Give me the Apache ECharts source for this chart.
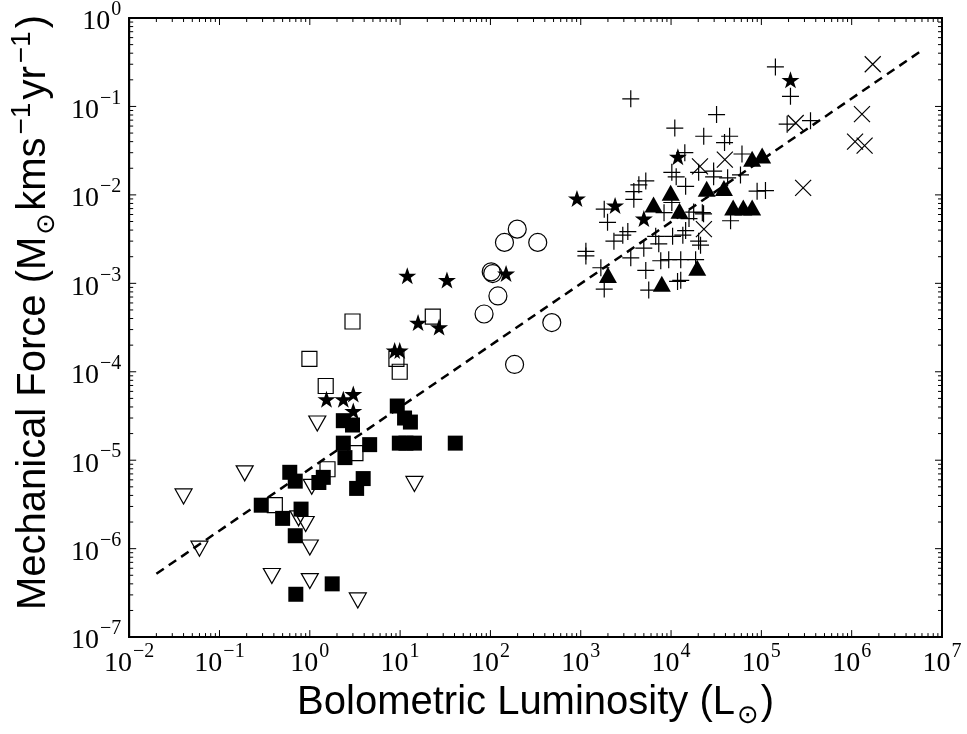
<!DOCTYPE html>
<html><head><meta charset="utf-8">
<script src="https://cdn.jsdelivr.net/npm/echarts@6/dist/echarts.min.js"></script>
<style>html,body{margin:0;padding:0;background:#fff}#c{width:967px;height:734px}</style>
</head><body><div id="c"></div>
<script>
// ---- axis ticks ----
const xMajorTicks = [1e-2, 1e-1, 1e0, 1e1, 1e2, 1e3, 1e4, 1e5, 1e6, 1e7];
const yMajorTicks = [1e-7, 1e-6, 1e-5, 1e-4, 1e-3, 1e-2, 1e-1, 1e0];
const minorMultipliers = [2, 3, 4, 5, 6, 7, 8, 9];

// ---- data: bolometric luminosity (Lsun) and mechanical force ----
const openTriDownL = [0.04, 0.06, 0.19, 0.38, 1.21, 1.05, 0.75, 0.9, 1.0, 1.0, 3.4, 14.4];
const openTriDownF = [3.9e-6, 1.0e-6, 7.1e-6, 4.9e-7, 2.6e-5, 5.0e-6, 2.2e-6, 1.9e-6, 1.03e-6, 4.3e-7, 2.6e-7, 5.4e-6];

const filledSqL = [0.29, 0.50, 0.60, 0.69, 0.80, 0.69, 0.70, 1.77, 1.26, 1.41, 2.35, 2.45, 3.3, 3.9, 4.6, 2.35, 2.97, 9.3, 11.2, 13, 9.8, 11.6, 14.4, 40.8];
const filledSqF = [3.1e-6, 2.2e-6, 7.3e-6, 5.8e-6, 2.8e-6, 1.4e-6, 3.05e-7, 4.0e-7, 5.6e-6, 6.4e-6, 1.56e-5, 1.07e-5, 4.8e-6, 6.2e-6, 1.5e-5, 2.8e-5, 2.5e-5, 4.1e-5, 3.0e-5, 2.7e-5, 1.56e-5, 1.56e-5, 1.56e-5, 1.56e-5];

const openSqL = [2.97, 0.99, 1.5, 3.2, 23, 9.1, 9.9, 0.41, 1.57];
const openSqF = [3.7e-4, 1.4e-4, 6.9e-5, 1.2e-5, 4.2e-4, 1.4e-4, 1.0e-4, 3.1e-6, 7.9e-6];

const starL = [1.53, 2.35, 3.03, 3.03, 12, 33, 15.8, 27, 8.7, 9.9, 149, 908, 2400, 5000, 11900, 2.1e5];
const starF = [4.9e-5, 4.9e-5, 5.6e-5, 3.6e-5, 1.22e-3, 1.09e-3, 3.6e-4, 3.2e-4, 1.74e-4, 1.74e-4, 1.29e-3, 9.1e-3, 7.6e-3, 5.4e-3, 0.027, 0.2];

const circleL = [198, 143, 334, 102, 106, 121, 85, 478, 185];
const circleF = [4.1e-3, 2.9e-3, 2.9e-3, 1.35e-3, 1.29e-3, 7.2e-4, 4.5e-4, 3.6e-4, 1.21e-4];

const filledTriL = [2000, 6400, 9900, 12400, 24800, 38500, 48700, 63000, 79000, 79000, 1.02e5, 19500, 7900];
const filledTriF = [1.24e-3, 7.8e-3, 0.0106, 6.6e-3, 0.0117, 0.012, 7.2e-3, 7.2e-3, 7.2e-3, 0.0257, 0.0279, 1.5e-3, 9.9e-4];

const crossL = [1.71e6, 1.3e6, 1.09e6, 1.39e6, 2.9e5, 2.4e5, 20900, 39400, 23100];
const crossF = [0.30, 0.082, 0.040, 0.036, 0.012, 0.065, 0.021, 0.025, 4.1e-3];

const plusL = [3580, 31900, 11000, 23000, 44500, 39100, 61000, 14200, 10200, 11400, 14500, 29600, 42300, 58700, 20200,
  5250, 4400, 3870, 3870, 1820, 1980, 3320, 2920, 2330, 1140, 1140, 1670, 1820, 3580, 4990, 5250, 7310, 7690, 6760,
  10400, 13500, 12800, 9420, 5660, 12800, 14500, 20200, 18700, 22200, 45600, 15800, 8360, 22900, 17800, 21200,
  89700, 1.11e5, 1.43e5, 2.1e5, 1.93e5, 3.5e5, 11800, 10200, 29600];
const plusF = [0.122, 0.081, 0.057, 0.046, 0.046, 0.039, 0.029, 0.030, 0.018, 0.016, 0.0125, 0.0186, 0.0156, 0.0168, 0.018,
  0.0144, 0.013, 0.0109, 8.9e-3, 6.9e-3, 4.9e-3, 3.85e-3, 3.5e-3, 3.0e-3, 2.3e-3, 2.04e-3, 1.5e-3, 8.6e-4, 1.94e-3, 2.5e-3, 1.4e-3, 2.8e-3, 1.8e-3, 3.4e-3,
  3.4e-3, 3.5e-3, 1.85e-3, 1.85e-3, 8.4e-4, 1.08e-3, 3.95e-3, 3.0e-3, 1.85e-3, 6.3e-3, 5.1e-3, 5.4e-3, 6.3e-3, 6.1e-3, 6.4e-3, 2.7e-3,
  0.011, 0.0112, 0.28, 0.13, 0.063, 0.069, 1.05e-3, 8.2e-3, 0.016];

// fitted relation (dashed line) end points
const fitL = [0.02, 6.2e6];
const fitF = [5.2e-7, 0.44];

// ---- build ----
const X_MIN = xMajorTicks[0], X_MAX = xMajorTicks[xMajorTicks.length - 1];
const Y_MIN = yMajorTicks[0], Y_MAX = yMajorTicks[yMajorTicks.length - 1];
function pairs(a, b) { return a.map((v, i) => [v, b[i]]); }

const tickData = [];
xMajorTicks.forEach(v => tickData.push([v, Y_MIN, 0, 7]));
yMajorTicks.forEach(v => tickData.push([X_MIN, v, 1, 7]));
xMajorTicks.slice(0, -1).forEach(d => minorMultipliers.forEach(m => tickData.push([d * m, Y_MIN, 0, 4])));
yMajorTicks.slice(0, -1).forEach(d => minorMultipliers.forEach(m => tickData.push([X_MIN, d * m, 1, 4])));

const PLUS = 'path://M0,8L16,8M8,0L8,16';
const CROSS = 'path://M0,0L16,16M16,0L0,16';
const STAR = 'path://M50,0L61.8,35.1L98.1,35.1L68.7,56.7L79.4,91L50,70L20.6,91L31.3,56.7L1.9,35.1L38.2,35.1Z';

const openStyle = { color: 'rgba(0,0,0,0)', borderColor: '#000', borderWidth: 1.2, opacity: 1 };
const fillStyle = { color: '#000', opacity: 1 };
const lineMarkStyle = { color: 'rgba(0,0,0,0)', borderColor: '#000', borderWidth: 1.2, opacity: 1 };

function labelFmt(v) {
  const e = Math.round(Math.log10(v));
  return '{b|10}{e|' + (e < 0 ? '\u2212' + (-e) : String(e)) + '}';
}
const SERIF = 'Liberation Serif, DejaVu Serif, serif';
const labelRich = {
  b: { fontFamily: SERIF, fontSize: 28, color: '#000', lineHeight: 36, verticalAlign: 'bottom' },
  e: { fontFamily: SERIF, fontSize: 20, color: '#000', lineHeight: 20, verticalAlign: 'top', padding: [0, 0, 0, 1] }
};
const SANS = 'Liberation Sans, Arial, sans-serif';
const nameRich = {
  a: { fontFamily: SANS, fontSize: 40, color: '#000', lineHeight: 46, verticalAlign: 'bottom' },
  sub: { fontFamily: 'DejaVu Sans, sans-serif', fontSize: 26, color: '#000', lineHeight: 46, verticalAlign: 'bottom', padding: [0, 2, -6, 2] },
  sup: { fontFamily: SANS, fontSize: 28, color: '#000', lineHeight: 46, verticalAlign: 'top', padding: [0, 3, 0, 3] }
};

const scatterBase = { type: 'scatter', z: 3, emphasis: { disabled: true } };

const option = {
  animation: false,
  backgroundColor: '#fff',
  grid: { left: 127, right: 25, top: 14, bottom: 85, show: true, borderColor: '#000', borderWidth: 2, backgroundColor: 'transparent', containLabel: false },
  xAxis: {
    type: 'log', logBase: 10, min: X_MIN, max: X_MAX, splitNumber: 9,
    axisLine: { show: true, lineStyle: { color: '#000', width: 2 } },
    axisTick: { show: false }, splitLine: { show: false }, minorTick: { show: false },
    axisLabel: { formatter: labelFmt, rich: labelRich, margin: 5, showMinLabel: true, showMaxLabel: true, hideOverlap: false },
    name: '{a|Bolometric Luminosity (L}{sub|\u2299}{a|)}',
    nameLocation: 'middle', nameGap: 37,
    nameTextStyle: { rich: nameRich }
  },
  yAxis: {
    type: 'log', logBase: 10, min: Y_MIN, max: Y_MAX, splitNumber: 7,
    axisLine: { show: true, lineStyle: { color: '#000', width: 2 } },
    axisTick: { show: false }, splitLine: { show: false }, minorTick: { show: false },
    axisLabel: { formatter: labelFmt, rich: labelRich, margin: 8, showMinLabel: true, showMaxLabel: true, hideOverlap: false },
    name: '{a|Mechanical Force (M}{sub|\u2299}{a|kms}{sup|\u22121}{a|yr}{sup|\u22121}{a|)}',
    nameLocation: 'middle', nameGap: 70, nameRotate: 90,
    nameTextStyle: { rich: nameRich, padding: [0, 0, 0, 30] }
  },
  series: [
    {
      type: 'line', data: pairs(fitL, fitF), symbol: 'none', z: 2, silent: true,
      lineStyle: { color: '#000', width: 2.5, type: [9, 6], opacity: 1 }
    },
    Object.assign({}, scatterBase, { name: 'open down triangles', data: pairs(openTriDownL, openTriDownF), symbol: 'triangle', symbolRotate: 180, symbolSize: [17, 15], itemStyle: openStyle }),
    Object.assign({}, scatterBase, { name: 'open squares', data: pairs(openSqL, openSqF), symbol: 'rect', symbolSize: 15, itemStyle: openStyle }),
    Object.assign({}, scatterBase, { name: 'filled squares', data: pairs(filledSqL, filledSqF), symbol: 'rect', symbolSize: 15, itemStyle: fillStyle }),
    Object.assign({}, scatterBase, { name: 'open circles', data: pairs(circleL, circleF), symbol: 'circle', symbolSize: 18, itemStyle: openStyle }),
    Object.assign({}, scatterBase, { name: 'plus', data: pairs(plusL, plusF), symbol: PLUS, symbolSize: 17, itemStyle: lineMarkStyle }),
    Object.assign({}, scatterBase, { name: 'cross', data: pairs(crossL, crossF), symbol: CROSS, symbolSize: 16, itemStyle: lineMarkStyle }),
    Object.assign({}, scatterBase, { name: 'filled triangles', data: pairs(filledTriL, filledTriF), symbol: 'triangle', symbolSize: [18, 16], itemStyle: fillStyle }),
    Object.assign({}, scatterBase, { name: 'stars', data: pairs(starL, starF), symbol: STAR, symbolSize: [18, 17], itemStyle: fillStyle }),
    {
      type: 'custom', name: 'ticks', data: tickData, silent: true, z: 10, clip: false,
      encode: { x: 0, y: 1 },
      renderItem: function (params, api) {
        const kind = api.value(2), len = api.value(3);
        const st = { stroke: '#000', lineWidth: 1 };
        if (kind === 0) {
          const v = api.value(0);
          const b = api.coord([v, Y_MIN]), t = api.coord([v, Y_MAX]);
          return { type: 'group', children: [
            { type: 'line', shape: { x1: b[0], y1: b[1], x2: b[0], y2: b[1] - len }, style: st },
            { type: 'line', shape: { x1: t[0], y1: t[1], x2: t[0], y2: t[1] + len }, style: st }
          ] };
        }
        const v = api.value(1);
        const l = api.coord([X_MIN, v]), r = api.coord([X_MAX, v]);
        return { type: 'group', children: [
          { type: 'line', shape: { x1: l[0], y1: l[1], x2: l[0] + len, y2: l[1] }, style: st },
          { type: 'line', shape: { x1: r[0], y1: r[1], x2: r[0] - len, y2: r[1] }, style: st }
        ] };
      }
    }
  ]
};
const chart = echarts.init(document.getElementById('c'), null, { renderer: 'canvas' });
chart.setOption(option);
</script>
</body></html>
